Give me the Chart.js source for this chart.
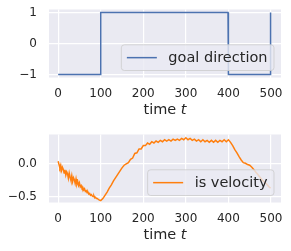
<!DOCTYPE html>
<html>
<head>
<meta charset="utf-8">
<script src="https://cdn.jsdelivr.net/npm/chart.js@4.4.1/dist/chart.umd.min.js"></script>
<style>
  html, body { margin: 0; padding: 0; background: #ffffff; }
  canvas { display: block; position: absolute; left: 0; }
  #c1 { top: 0; }
  #c2 { top: 125px; }
</style>
</head>
<body>
<canvas id="c1" width="291" height="125"></canvas>
<canvas id="c2" width="291" height="126"></canvas>
<script>
// ---- data ----
const xTicks = [0, 100, 200, 300, 400, 500];
const goalTicks = [-1, 0, 1];
const velTicks = [-0.5, 0.0];

const tGoal = [0, 99, 100, 399, 400, 498, 499];
const goal  = [-1, -1, 1, 1, -1, -1, 1];

const tVel = [
  0,2,4,6,8,10,12,14,16,18,20,22,24,26,28,30,32,34,36,38,40,42,44,46,48,50,
  52,54,56,58,60,62,64,66,68,70,72,74,76,78,80,82,84,86,88,90,92,94,96,98,100,
  105,110,115,120,125,130,135,140,145,150,155,160,165,170,175,180,185,190,195,200,
  205,210,215,220,225,230,235,240,245,250,255,260,265,270,275,280,285,290,295,300,
  305,310,315,320,325,330,335,340,345,350,355,360,365,370,375,380,385,390,395,400,
  405,410,415,420,425,430,435,440,445,450,455,460,465,470,475,480,485,490,495,499
];
const vel = [
  0.04,-0.01,-0.06,-0.02,-0.10,-0.05,-0.08,-0.14,-0.09,-0.17,-0.12,-0.15,-0.22,-0.14,-0.20,-0.25,-0.18,-0.27,-0.21,-0.24,-0.30,-0.23,-0.31,-0.27,-0.33,-0.29,
  -0.35,-0.33,-0.37,-0.36,-0.40,-0.38,-0.42,-0.41,-0.44,-0.43,-0.46,-0.45,-0.48,-0.47,-0.49,-0.50,-0.49,-0.52,-0.51,-0.53,-0.53,-0.54,-0.55,-0.55,-0.56,
  -0.53,-0.48,-0.43,-0.37,-0.32,-0.26,-0.21,-0.16,-0.11,-0.06,-0.02,0.00,0.02,0.07,0.09,0.16,0.17,0.23,0.23,0.28,
  0.28,0.32,0.30,0.34,0.32,0.35,0.33,0.36,0.34,0.37,0.35,0.37,0.35,0.38,0.36,0.38,0.36,0.39,0.37,0.40,
  0.37,0.39,0.36,0.38,0.35,0.37,0.34,0.37,0.34,0.36,0.33,0.36,0.33,0.36,0.33,0.36,0.34,0.37,0.34,0.37,
  0.33,0.28,0.22,0.17,0.11,0.06,0.02,0.01,-0.01,-0.02,-0.05,-0.09,-0.13,-0.17,-0.21,-0.25,-0.28,-0.31,-0.35,-0.37
];

const xLabel = ['time ', 't'];

// ---- styling helpers ----
const TEXT = '#262626';
const FAM = '"DejaVu Sans", sans-serif';
const fmtMinus = s => s.replace('-', '\u2212');

const decor = {
  id: 'decor',
  beforeDraw(chart) {
    const { ctx, chartArea: a } = chart;
    ctx.save();
    ctx.fillStyle = '#EAEAF2';
    ctx.fillRect(a.left, a.top, a.right - a.left, a.bottom - a.top);
    ctx.restore();
  },
  afterDatasetsDraw(chart) {
    const { ctx, chartArea: a } = chart;
    const ds = chart.data.datasets[0];
    ctx.save();
    ctx.font = '14.5px ' + FAM;
    const tw = ctx.measureText(ds.label).width;
    const right = a.right - 7, bottom = a.bottom - 7;
    const w = tw + 53.5, h = 25.7;
    const left = right - w, top = bottom - h;
    const r = 3;
    ctx.beginPath();
    ctx.moveTo(left + r, top);
    ctx.lineTo(right - r, top);
    ctx.arcTo(right, top, right, top + r, r);
    ctx.lineTo(right, bottom - r);
    ctx.arcTo(right, bottom, right - r, bottom, r);
    ctx.lineTo(left + r, bottom);
    ctx.arcTo(left, bottom, left, bottom - r, r);
    ctx.lineTo(left, top + r);
    ctx.arcTo(left, top, left + r, top, r);
    ctx.closePath();
    ctx.fillStyle = 'rgba(234,234,242,0.8)';
    ctx.fill();
    ctx.strokeStyle = 'rgba(204,204,204,0.8)';
    ctx.lineWidth = 1;
    ctx.stroke();
    const cy = top + h / 2;
    ctx.beginPath();
    ctx.moveTo(left + 5.5, cy);
    ctx.lineTo(left + 35.5, cy);
    ctx.strokeStyle = ds.borderColor;
    ctx.lineWidth = ds.borderWidth;
    ctx.stroke();
    ctx.fillStyle = TEXT;
    ctx.textBaseline = 'middle';
    ctx.textAlign = 'left';
    ctx.fillText(ds.label, left + 47, cy + 0.5);
    ctx.restore();
  },
  afterDraw(chart) {
    const { ctx, chartArea: a } = chart;
    ctx.save();
    ctx.fillStyle = TEXT;
    ctx.textBaseline = 'alphabetic';
    ctx.textAlign = 'left';
    ctx.font = '14.5px ' + FAM;
    const w1 = ctx.measureText(xLabel[0]).width;
    ctx.font = 'oblique 14.5px ' + FAM;
    const w2 = ctx.measureText(xLabel[1]).width;
    const x0 = (a.left + a.right) / 2 - (w1 + w2) / 2;
    const yb = 114;
    ctx.font = '14.5px ' + FAM;
    ctx.fillText(xLabel[0], x0, yb);
    ctx.font = 'oblique 14.5px ' + FAM;
    ctx.fillText(xLabel[1], x0 + w1, yb);
    ctx.restore();
  }
};

function makeChart(id, H, xs, ys, label, color, yMin, yMax, yTicks, fmt) {
  return new Chart(document.getElementById(id), {
    type: 'line',
    data: {
      datasets: [{
        label: label,
        data: xs.map((t, i) => ({ x: t, y: ys[i] })),
        borderColor: color,
        borderWidth: 1.5,
        pointRadius: 0,
        tension: 0,
        fill: false
      }]
    },
    options: {
      responsive: false,
      animation: false,
      devicePixelRatio: 1,
      layout: { padding: { top: 9.5, right: 10, left: 0, bottom: 0 } },
      plugins: { legend: { display: false }, tooltip: { enabled: false } },
      scales: {
        x: {
          type: 'linear',
          min: -21.5, max: 523.5,
          afterBuildTicks: s => { s.ticks = xTicks.map(v => ({ value: v })); },
          afterFit: s => { s.height = H - 77.5; s.paddingLeft = 0; s.paddingRight = 0; },
          ticks: {
            font: { family: FAM, size: 12 }, color: TEXT, padding: 9,
            maxRotation: 0, autoSkip: false,
            callback: v => String(v)
          },
          grid: { color: '#ffffff', lineWidth: 1.2, drawTicks: false },
          border: { display: false }
        },
        y: {
          min: yMin, max: yMax,
          afterBuildTicks: s => { s.ticks = yTicks.map(v => ({ value: v })); },
          afterFit: s => { s.width = 49; s.paddingTop = 0; s.paddingBottom = 0; },
          ticks: {
            font: { family: FAM, size: 12 }, color: TEXT, padding: 12,
            callback: v => fmtMinus(fmt(v))
          },
          grid: { color: '#ffffff', lineWidth: 1.2, drawTicks: false },
          border: { display: false }
        }
      }
    },
    plugins: [decor]
  });
}

makeChart('c1', 125, tGoal, goal, 'goal direction', '#4C72B0', -1.1, 1.1, goalTicks, v => String(v));
makeChart('c2', 126, tVel, vel, 'is velocity', '#FF7F0E', -0.59, 0.45, velTicks, v => v.toFixed(1));
</script>
</body>
</html>
